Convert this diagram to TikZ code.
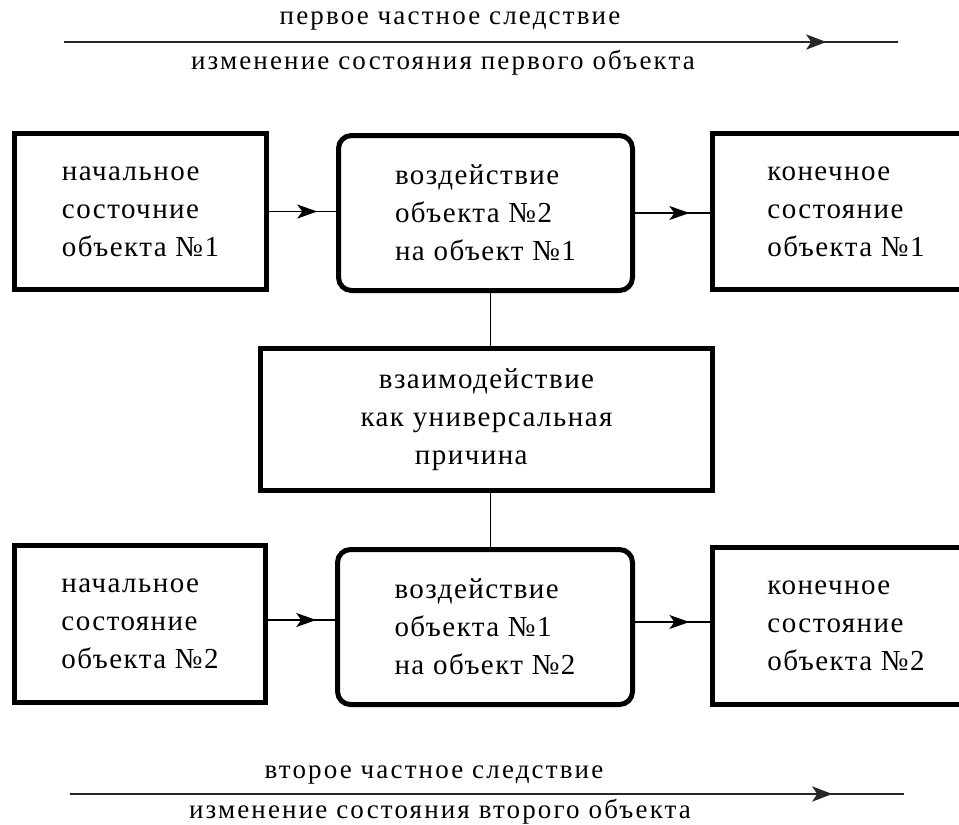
\documentclass[tikz,border=0pt]{standalone}
\usepackage{fontspec}
\newfontfamily\dfont[LetterSpace=5]{Liberation Serif}
\newfontfamily\hfont[LetterSpace=8]{Liberation Serif}
\usetikzlibrary{arrows.meta,decorations.markings}
\begin{document}
\begin{tikzpicture}[x=1pt,y=-1pt,
  sq/.style={draw, line width=5pt, inner sep=0pt, align=left,
    font=\dfont\fontsize{29}{38}\selectfont},
  rnd/.style={sq, rounded corners=13pt},
  conn/.style={line width=1.5pt, postaction={decorate},
    decoration={markings, mark=at position #1 with {\arrow{Stealth[length=20pt,width=14pt,inset=5pt]}}}},
  longline/.style={line width=2.8pt, black!85, postaction={decorate},
    decoration={markings, mark=at position #1 with {\arrow{Stealth[length=20pt,width=15pt,inset=5pt]}}}},
  plain/.style={line width=1.5pt},
  caption/.style={inner sep=0pt, font=\hfont\fontsize{27}{30}\selectfont}]
\useasboundingbox (0,0) rectangle (959,825);
\clip (0,0) rectangle (959,825);
\fill[white] (0,0) rectangle (959,825);

% top consequence
\coordinate (t1) at (64,42);
\coordinate (t2) at (898,42);
\draw[longline=0.914] (t1) -- (t2);
\node[caption] (tA) at (450,21) {первое частное следствие};
\node[caption] (tB) at (443,63) {изменение состояния первого объекта};

% top row
\node[sq, minimum width=252pt, minimum height=156pt] (tl) at (140.5,211.5)
  {начальное\\состочние\\объекта №1};
\node[rnd, minimum width=294pt, minimum height=155pt] (tm) at (485.5,213)
  {воздействие\\объекта №2\\на объект №1};
\node[sq, minimum width=268pt, minimum height=156pt] (tr) at (846,211.5)
  {конечное\\состояние\\объекта №1};

% centre
\node[sq, align=center, minimum width=452pt, minimum height=142pt] (c) at (486.5,419.5)
  {взаимодействие\\как универсальная\\причина\phantom{00}};

% bottom row
\node[sq, minimum width=251pt, minimum height=157pt] (bl) at (140,624)
  {начальное\\состояние\\объекта №2};
\node[rnd, minimum width=295pt, minimum height=155pt] (bm) at (485,627)
  {воздействие\\объекта №1\\на объект №2};
\node[sq, minimum width=268pt, minimum height=157pt] (br) at (846,625.5)
  {конечное\\состояние\\объекта №2};

% connectors
\draw[conn=0.72] (tl.east) -- (tl.east -| tm.west);
\draw[conn=0.73] (tm.east) -- (tm.east -| tr.west);
\draw[conn=0.72] ([yshift=4pt]bl.east) -- ([yshift=4pt]bl.east -| bm.west);
\draw[conn=0.73] ([yshift=5pt]bm.east) -- ([yshift=5pt]bm.east -| br.west);
\draw[plain] ([xshift=5pt]tm.south) -- ([xshift=5pt]tm.south |- c.north);
\draw[plain] ([xshift=4pt]c.south) -- ([xshift=4pt]c.south |- bm.north);

% bottom consequence
\coordinate (b1) at (70,794);
\coordinate (b2) at (904,794);
\draw[longline=0.914] (b1) -- (b2);
\node[caption] (bA) at (434,775) {второе частное следствие};
\node[caption] (bB) at (440,812) {изменение состояния второго объекта};
\end{tikzpicture}
\end{document}
